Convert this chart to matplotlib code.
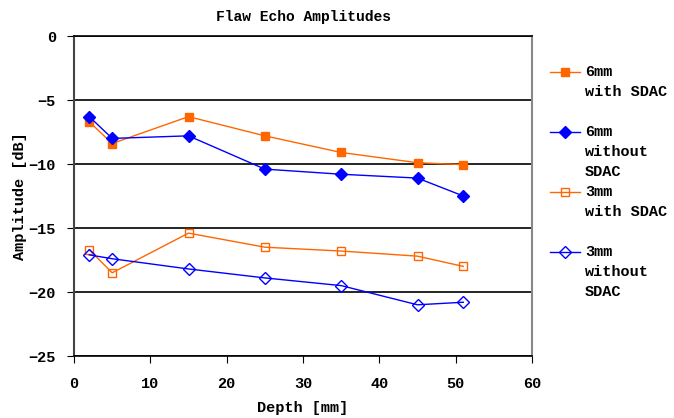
import matplotlib
matplotlib.use('Agg')
import matplotlib.pyplot as plt
from matplotlib.lines import Line2D

plt.rcParams['font.family'] = ['Liberation Mono', 'DejaVu Sans Mono']
plt.rcParams['font.weight'] = 'bold'

depth = [2, 5, 15, 25, 35, 45, 51]
amp_6mm_sdac = [-6.7, -8.4, -6.3, -7.8, -9.1, -9.9, -10.05]
amp_6mm_nosdac = [-6.3, -8.0, -7.8, -10.4, -10.8, -11.1, -12.5]
amp_3mm_sdac = [-16.7, -18.5, -15.4, -16.5, -16.8, -17.2, -18.0]
amp_3mm_nosdac = [-17.1, -17.4, -18.2, -18.9, -19.5, -21.0, -20.8]
labels = ['6mm\nwith SDAC', '6mm\nwithout\nSDAC', '3mm\nwith SDAC', '3mm\nwithout\nSDAC']

orange = '#FF6600'
blue = '#0000FF'

W, H = 674, 418
fig = plt.figure(figsize=(W / 100, H / 100), dpi=100)
ax = fig.add_axes([74 / W, 1 - 356 / H, 458 / W, 320 / H])

styles = [
    dict(color=orange, marker='s', markersize=6),
    dict(color=blue, marker='D', markersize=6.5),
    dict(color=orange, marker='s', markersize=6, markerfacecolor='none'),
    dict(color=blue, marker='D', markersize=6.5, markerfacecolor='none'),
]
series = [amp_6mm_sdac, amp_6mm_nosdac, amp_3mm_sdac, amp_3mm_nosdac]
for vals, st in zip(series, styles):
    ax.plot(depth, vals, lw=1, **st)

ax.set_xlim(0, 60)
ax.set_ylim(-25, 0)
ax.set_xticks(range(0, 61, 10))
ax.set_yticks(range(-25, 1, 5))
ax.yaxis.grid(True, color='black', lw=1.2)
ax.set_axisbelow(True)
ax.spines['left'].set_color('#444444')
ax.spines['left'].set_linewidth(1.5)
ax.spines['right'].set_color('#888888')
ax.spines['right'].set_linewidth(1.5)
ax.spines['top'].set_linewidth(1.2)
ax.spines['bottom'].set_linewidth(1.2)
ax.tick_params(axis='x', labelsize=11, length=5, direction='out', pad=10)
ax.tick_params(axis='y', labelsize=11, length=5, direction='out', pad=8)

ax.set_title('Flaw Echo Amplitudes', fontsize=10.5, fontweight='bold', pad=11)
ax.set_xlabel('Depth [mm]', fontsize=11, fontweight='bold', labelpad=7)
ax.set_ylabel('Amplitude [dB]', fontsize=11, fontweight='bold', labelpad=1)

# legend drawn by hand: handle on first line of each label, fixed 60px slots
for i, (lab, st) in enumerate(zip(labels, styles)):
    y = 1 - (72 + 60 * i) / H
    fig.add_artist(Line2D([550 / W, 565 / W, 580 / W], [y, y, y], lw=1,
                          markevery=[1], transform=fig.transFigure, **st))
    fig.text(585 / W, y + 7 / H, lab, fontsize=11, fontweight='bold',
             va='top', ha='left', linespacing=1.55)

plt.savefig('out.png', dpi=100)
